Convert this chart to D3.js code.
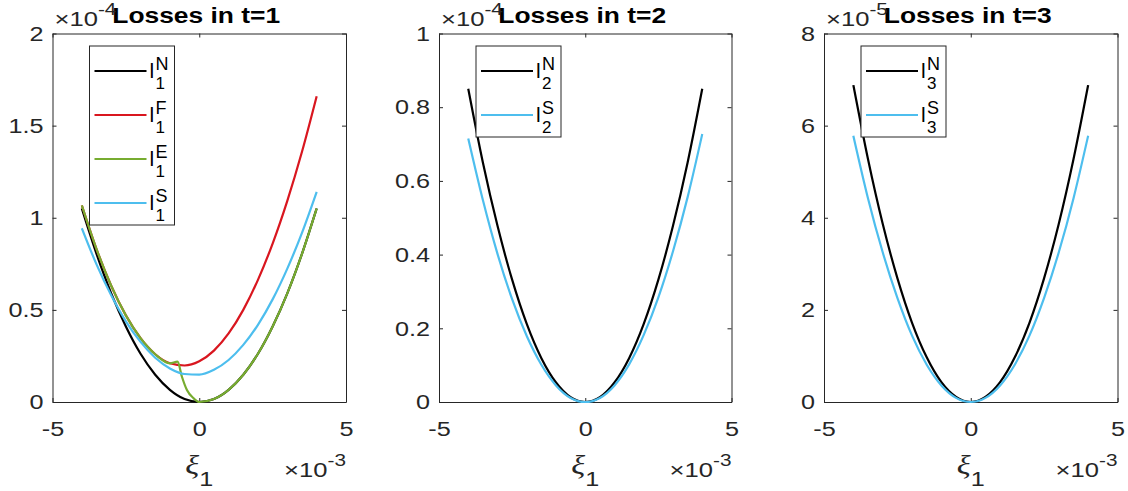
<!DOCTYPE html>
<html>
<head>
<meta charset="utf-8">
<script src="https://cdn.jsdelivr.net/npm/d3@7"></script>
<style>
  body { margin: 0; background: #fff; }
</style>
</head>
<body>
<svg id="chart" width="1128" height="491"></svg>
<script>
// xi values, in units of 1e-3
const xi = [-4, -3.5, -3, -2.5, -2, -1.5, -1, -0.5, 0, 0.5, 1, 1.5, 2, 2.5, 3, 3.5, 4];
const xiE = [-4, -3.5, -3, -2.5, -2, -1.5, -1, -0.74, -0.59, -0.42, -0.19, 0, 0.5, 1, 1.5, 2, 2.5, 3, 3.5, 4];

// t=1 losses, units of 1e-4
const lossN1 = [1.05, 0.804, 0.590, 0.410, 0.262, 0.148, 0.066, 0.016, 0, 0.016, 0.066, 0.148, 0.262, 0.410, 0.590, 0.804, 1.05];
const lossF1 = [1.067, 0.830, 0.631, 0.470, 0.346, 0.259, 0.210, 0.198, 0.221, 0.279, 0.372, 0.500, 0.663, 0.860, 1.092, 1.358, 1.659];
const lossE1 = [1.067, 0.830, 0.631, 0.470, 0.346, 0.259, 0.210, 0.219, 0.137, 0.065, 0.020, 0, 0.016, 0.066, 0.148, 0.262, 0.410, 0.590, 0.804, 1.05];
const lossS1 = [0.943, 0.747, 0.579, 0.438, 0.326, 0.240, 0.182, 0.152, 0.149, 0.175, 0.228, 0.310, 0.419, 0.557, 0.724, 0.918, 1.140];

// t=2 losses, units of 1e-4
const lossN2 = [0.85, 0.650, 0.478, 0.332, 0.212, 0.119, 0.053, 0.013, 0, 0.013, 0.053, 0.119, 0.212, 0.332, 0.478, 0.650, 0.85];
const lossS2 = [0.715, 0.548, 0.402, 0.279, 0.179, 0.101, 0.045, 0.011, 0, 0.011, 0.045, 0.102, 0.182, 0.284, 0.409, 0.556, 0.727];

// t=3 losses, units of 1e-5
const lossN3 = [6.88, 5.27, 3.87, 2.69, 1.72, 0.97, 0.43, 0.11, 0, 0.11, 0.43, 0.97, 1.72, 2.69, 3.87, 5.27, 6.88];
const lossS3 = [5.78, 4.42, 3.25, 2.26, 1.44, 0.81, 0.36, 0.09, 0, 0.09, 0.36, 0.81, 1.44, 2.26, 3.25, 4.42, 5.78];

const xTicks = [-5, 0, 5];
const yTicks1 = [0, 0.5, 1, 1.5, 2];
const yTicks2 = [0, 0.2, 0.4, 0.6, 0.8, 1];
const yTicks3 = [0, 2, 4, 6, 8];

const axisColor = "#262626";
const colN = "#000000", colF = "#d9161f", colE = "#77ac30", colS = "#4dbeee";
const sans = "'Liberation Sans', Arial, sans-serif";

const svg = d3.select("#chart");
const yTop = 33.5, yBottom = 402;

// MATLAB text looks a bit wider than Liberation Sans, so stretch it around its anchor
function stretch(sel, k) {
  sel.each(function () {
    const t = d3.select(this);
    const x = +t.attr("x") || 0;
    t.attr("transform", `translate(${x},0) scale(${k},1) translate(${-x},0)`);
  });
}

const panels = [
  {left: 52.5, right: 346, ymax: 2, yticks: yTicks1, exp: "-4", t: 1, series: [
    {x: xi, y: lossN1, color: colN, sup: "N"},
    {x: xi, y: lossF1, color: colF, sup: "F"},
    {x: xiE, y: lossE1, color: colE, sup: "E"},
    {x: xi, y: lossS1, color: colS, sup: "S"}
  ]},
  {left: 439, right: 731.5, ymax: 1, yticks: yTicks2, exp: "-4", t: 2, series: [
    {x: xi, y: lossN2, color: colN, sup: "N"},
    {x: xi, y: lossS2, color: colS, sup: "S"}
  ]},
  {left: 824, right: 1117.5, ymax: 8, yticks: yTicks3, exp: "-5", t: 3, series: [
    {x: xi, y: lossN3, color: colN, sup: "N"},
    {x: xi, y: lossS3, color: colS, sup: "S"}
  ]}
];

panels.forEach(p => {
  const x = d3.scaleLinear().domain([-5, 5]).range([p.left, p.right]);
  const y = d3.scaleLinear().domain([0, p.ymax]).range([yBottom, yTop]);
  const g = svg.append("g");

  // box and ticks (ticks point inward)
  const axB = g.append("g")
    .attr("transform", `translate(0,${yBottom})`)
    .call(d3.axisBottom(x).tickValues(xTicks).tickFormat(d => String(d))
      .tickSizeInner(-4).tickSizeOuter(0).tickPadding(19));
  const axT = g.append("g")
    .attr("transform", `translate(0,${yTop})`)
    .call(d3.axisTop(x).tickValues(xTicks).tickFormat(() => "")
      .tickSizeInner(-4).tickSizeOuter(0));
  const axL = g.append("g")
    .attr("transform", `translate(${p.left},0)`)
    .call(d3.axisLeft(y).tickValues(p.yticks).tickFormat(d => String(d))
      .tickSizeInner(-4).tickSizeOuter(0).tickPadding(9));
  const axR = g.append("g")
    .attr("transform", `translate(${p.right},0)`)
    .call(d3.axisRight(y).tickValues(p.yticks).tickFormat(() => "")
      .tickSizeInner(-4).tickSizeOuter(0));

  [axB, axT, axL, axR].forEach(a => {
    a.selectAll(".domain, .tick line").attr("stroke", axisColor).attr("stroke-width", 1);
    a.selectAll("text")
      .attr("fill", axisColor)
      .attr("font-family", sans)
      .attr("font-size", 21);
  });
  stretch(axB.selectAll("text"), 1.2);
  stretch(axL.selectAll("text"), 1.2);

  // curves
  const line = d3.line()
    .x(d => x(d[0]))
    .y(d => y(d[1]))
    .curve(d3.curveMonotoneX);

  p.series.forEach(s => {
    g.append("path")
      .datum(d3.zip(s.x, s.y))
      .attr("d", line)
      .attr("fill", "none")
      .attr("stroke", s.color)
      .attr("stroke-width", 2.2);
  });

  // title
  const title = g.append("text")
    .attr("x", (p.left + p.right) / 2 - 3)
    .attr("y", 23)
    .attr("text-anchor", "middle")
    .attr("font-family", sans)
    .attr("font-weight", "bold")
    .attr("font-size", 22)
    .attr("fill", "#000")
    .text(`Losses in t=${p.t}`);
  stretch(title, 1.2);

  // y exponent
  const ye = g.append("text")
    .attr("x", p.left + 2)
    .attr("y", 26)
    .attr("font-family", sans)
    .attr("font-size", 21)
    .attr("fill", axisColor);
  ye.append("tspan").text("×10");
  ye.append("tspan").attr("font-size", 17).attr("dy", -11).text(p.exp);
  stretch(ye, 1.22);

  // x exponent
  const xe = g.append("text")
    .attr("x", p.right)
    .attr("y", 477)
    .attr("text-anchor", "end")
    .attr("font-family", sans)
    .attr("font-size", 21)
    .attr("fill", axisColor);
  xe.append("tspan").text("×10");
  xe.append("tspan").attr("font-size", 17).attr("dy", -11).text("-3");
  stretch(xe, 1.22);

  // x label
  const xl = g.append("text")
    .attr("x", (p.left + p.right) / 2)
    .attr("y", 474)
    .attr("text-anchor", "middle")
    .attr("fill", axisColor);
  xl.append("tspan")
    .attr("font-family", "'Liberation Serif', 'Times New Roman', serif")
    .attr("font-style", "italic")
    .attr("font-size", 27)
    .text("ξ");
  xl.append("tspan")
    .attr("font-family", sans)
    .attr("font-size", 21)
    .attr("dy", 12)
    .text("1");
  stretch(xl, 1.2);

  // legend
  const n = p.series.length;
  const lx = p.left + 37, ly = 46;
  const leg = g.append("g");
  leg.append("rect")
    .attr("x", lx).attr("y", ly)
    .attr("width", 85)
    .attr("height", 25 + (n - 1) * 44 + 22)
    .attr("fill", "#fff")
    .attr("stroke", axisColor)
    .attr("stroke-width", 1);

  const entry = leg.selectAll("g.entry")
    .data(p.series)
    .join("g")
    .attr("class", "entry")
    .attr("transform", (d, i) => `translate(${lx},${ly + 25 + i * 44})`);

  entry.append("line")
    .attr("x1", 5).attr("x2", 57)
    .attr("stroke", d => d.color)
    .attr("stroke-width", 2.2);
  entry.append("text")
    .attr("x", 60).attr("y", 7)
    .attr("font-family", sans).attr("font-size", 21)
    .attr("fill", "#000")
    .text("l");
  entry.append("text")
    .attr("x", 66).attr("y", -1)
    .attr("font-family", sans).attr("font-size", 18)
    .attr("fill", "#000")
    .text(d => d.sup);
  entry.append("text")
    .attr("x", 66).attr("y", 18)
    .attr("font-family", sans).attr("font-size", 17)
    .attr("fill", "#000")
    .text(p.t);
});
</script>
</body>
</html>
